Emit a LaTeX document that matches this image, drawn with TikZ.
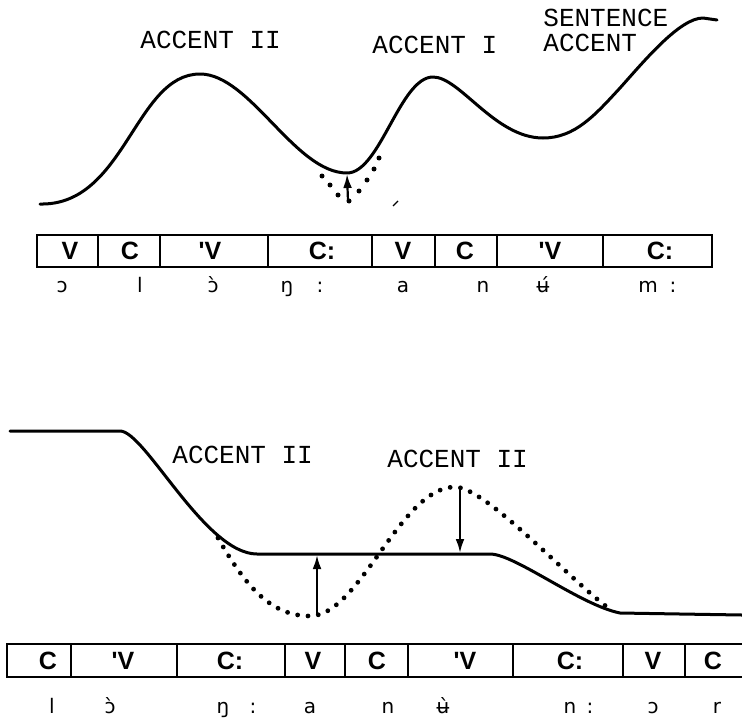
\documentclass[tikz,border=0pt]{standalone}
\usepackage{fontspec}
\usepackage{tikz}
\usetikzlibrary{arrows.meta}
\newfontfamily\typefont{Liberation Mono}
\newfontfamily\cellfont[Ligatures=TeXOff]{Liberation Sans}
\newfontfamily\ipafont{DejaVu Sans}

\tikzset{
  contour/.style={line width=1.5pt,line join=round,line cap=round},
  dotcontour/.style={line width=2.4pt,line cap=round,dash pattern=on 0pt off 5.2pt},
  segrow/.style={line width=1pt},
  accent/.style={font=\typefont\fontsize{13}{15}\selectfont,inner sep=0pt,anchor=base west},
  seg/.style={font=\cellfont\bfseries\fontsize{12.5}{14}\selectfont,inner sep=0pt},
  ipa/.style={font=\ipafont\fontsize{10}{12}\selectfont,inner sep=0pt,anchor=base},
  pitcharrow/.style={line width=1.1pt,-{Latex[length=7pt,width=4.4pt]}}
}

\begin{document}
\begin{tikzpicture}[x=0.5pt,y=-0.5pt]
	\useasboundingbox (0,0) rectangle (742,722);
	% upper contour
	\draw[contour] (40,204) .. controls (125,206) and (135,74) .. (200,74)
		.. controls (250,74) and (295,173) .. (347,173)
		.. controls (380,173) and (400,77) .. (433,77)
		.. controls (460,77) and (495,138) .. (543,138)
		.. controls (575,138) and (595,115) .. (620,88)
		.. controls (645,60) and (680,18) .. (703,18) -- (717,20);
	\foreach \x/\y in {322/176,330/185,338/195,349/201,359/191,367/180,374/169,379/158} {\fill (\x,\y) circle (1.25pt);}
	\coordinate (lowA) at (348,201);
	\coordinate (dipA) at (347,174);
	\draw[pitcharrow] (lowA) -- (dipA);
	\draw[line width=0.6pt] (393,206) -- (398,201);
	\node[accent] (accIIup) at (140,49) {ACCENT II};
	\node[accent] (accIup) at (372,54) {ACCENT I};
	\node[accent] (sent) at (543,27) {SENTENCE};
	\node[accent] (sentacc) at (543,52) {ACCENT};
	% upper segments
	\draw[segrow] (37,235) rectangle (712,267);
	\foreach \x in {98,160,268,372,435,497,603} {\draw[segrow] (\x,235) -- (\x,267);}
	\foreach \x/\l [count=\i] in {70/V,130/C,210/'V,322/C:,403/V,465/C,550/'V,660/C:} {\node[seg] (up\i) at (\x,251) {\l};}
	\foreach \x/\l [count=\i] in {62/ɔ,140/l,213/ɔ̀,287/ŋ,320/:,403/a,483/n,543/ʉ́,648/m,673/:} {\node[ipa] (ipaup\i) at (\x,292) {\l};}
	% lower contour
	\draw[contour] (10,431) -- (120,431) .. controls (145,431) and (205,554) .. (257,554)
		-- (490,554) .. controls (515,554) and (580,605) .. (620,613) -- (680,614) -- (742,615);
	\draw[dotcontour] (218,538) .. controls (245,585) and (270,616) .. (310,616)
		.. controls (360,616) and (400,487) .. (455,487)
		.. controls (485,487) and (565,575) .. (607,607);
	\coordinate (lowB) at (317,615);
	\coordinate (flatB) at (317,555);
	\coordinate (highC) at (460,488);
	\coordinate (flatC) at (460,553);
	\draw[pitcharrow] (lowB) -- (flatB);
	\draw[pitcharrow] (highC) -- (flatC);
	\node[accent] (accIIa) at (172,463) {ACCENT II};
	\node[accent] (accIIb) at (387,467) {ACCENT II};
	% lower segments
	\draw[segrow] (742,644) -- (7,644) -- (7,677) -- (742,677);
	\foreach \x in {71,177,285,345,408,513,623,685} {\draw[segrow] (\x,644) -- (\x,677);}
	\foreach \x/\l [count=\i] in {48/C,123/'V,230/C:,313/V,377/C,465/'V,570/C:,653/V,713/C} {\node[seg] (low\i) at (\x,661) {\l};}
	\foreach \x/\l [count=\i] in {52/l,110/ɔ̀,223/ŋ,253/:,310/a,388/n,443/ʉ̀,570/n,590/:,653/ɔ,717/r} {\node[ipa] (ipalow\i) at (\x,713) {\l};}
\end{tikzpicture}
\end{document}
